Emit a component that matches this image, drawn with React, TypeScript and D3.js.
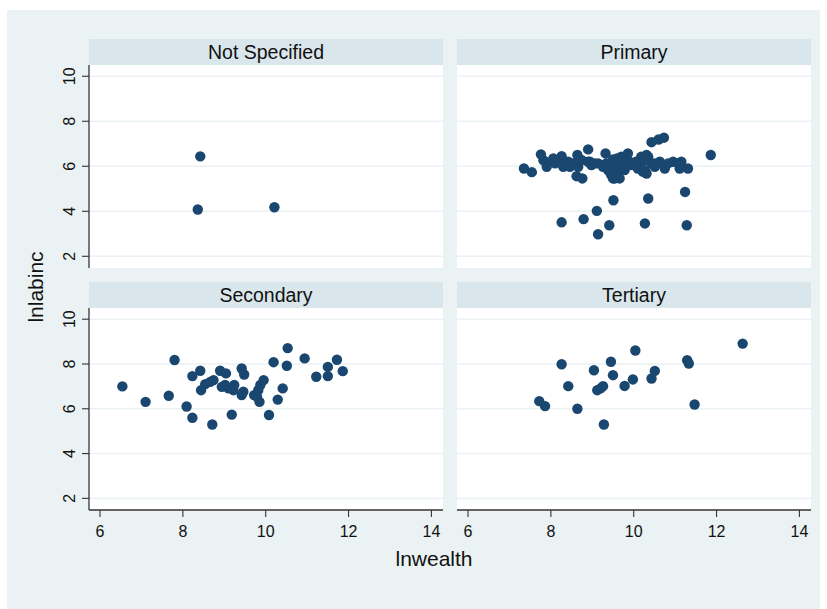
import React from "react";
import * as d3 from "d3";

type Pt = [number, number];

const panelTitles = ["Not Specified", "Primary", "Secondary", "Tertiary"];
const xTicks = [6, 8, 10, 12, 14];
const yTicks = [2, 4, 6, 8, 10];
const xLabel = "lnwealth";
const yLabel = "lnlabinc";

const notSpecified: Pt[] = [
  [8.42, 6.44], [8.36, 4.08], [10.21, 4.18],
];

const primary: Pt[] = [
  [7.35, 5.9], [7.54, 5.74], [7.76, 6.53], [7.82, 6.27], [7.9, 5.98], [8.02, 6.2], [8.1, 6.13],
  [8.26, 6.45], [8.3, 5.98], [8.42, 6.2], [8.54, 6.13], [8.64, 6.5], [8.66, 5.98], [8.62, 5.56],
  [8.76, 5.46], [8.9, 6.75], [8.9, 6.2], [8.98, 6.05], [9.14, 6.13], [9.32, 6.57], [9.34, 6.13],
  [9.38, 5.83], [9.46, 5.61], [9.5, 5.98], [9.54, 5.46], [9.62, 6.2], [9.66, 5.46], [9.7, 6.42],
  [9.74, 6.13], [9.78, 5.83], [9.86, 6.57], [9.9, 6.2], [10.02, 6.05], [10.1, 5.9], [10.18, 6.2],
  [10.31, 6.5], [10.31, 5.68], [10.35, 6.42], [10.43, 6.13], [10.51, 5.98], [10.63, 6.2],
  [10.75, 5.9], [10.83, 6.13], [10.95, 6.2], [11.07, 6.13], [11.11, 5.9], [11.15, 6.2], [11.31, 5.9],
  [8.06, 6.35], [8.26, 6.13], [8.46, 5.98], [8.74, 6.28], [8.94, 6.2], [9.06, 6.13], [9.26, 5.98],
  [9.42, 5.76], [9.54, 5.83], [9.5, 5.46], [9.66, 5.98], [9.78, 6.13], [9.94, 6.05], [10.06, 6.2],
  [10.18, 6.42], [10.3, 6.28], [10.22, 5.76], [10.5, 6.13], [10.27, 6.42], [10.27, 5.83],
  [9.45, 5.7], [9.6, 5.55], [9.55, 6.0], [9.7, 5.9], [9.35, 6.0], [9.5, 6.3], [9.6, 6.35], [9.8, 6.0],
  [8.26, 3.51], [8.79, 3.65], [9.11, 4.02], [9.14, 2.98], [9.41, 3.38], [9.51, 4.49], [10.27, 3.46],
  [10.35, 4.57], [11.24, 4.86], [11.28, 3.38], [11.86, 6.5], [10.43, 7.07], [10.6, 7.19], [10.73, 7.27],
];

const secondary: Pt[] = [
  [6.54, 7.0], [7.1, 6.31], [7.66, 6.58], [7.8, 8.18], [8.09, 6.1], [8.23, 5.6], [8.23, 7.46],
  [8.42, 7.7], [8.44, 6.83], [8.54, 7.1], [8.71, 5.3], [8.74, 7.28], [8.66, 7.2], [8.9, 7.7],
  [9.04, 7.58], [9.02, 7.06], [9.1, 6.91], [9.18, 5.74], [9.22, 6.83], [9.24, 7.06], [9.42, 7.8],
  [9.48, 7.53], [9.42, 6.61], [9.46, 6.76], [9.72, 6.61], [9.82, 6.83], [9.87, 7.06], [9.95, 7.28],
  [9.85, 6.31], [10.08, 5.72], [10.19, 8.08], [10.29, 6.41], [10.41, 6.91], [10.51, 7.92],
  [10.53, 8.71], [10.94, 8.25], [11.22, 7.43], [11.5, 7.87], [11.5, 7.46], [11.72, 8.19],
  [11.86, 7.68], [8.94, 6.98], [9.79, 6.54],
];

const tertiary: Pt[] = [
  [7.72, 6.34], [7.86, 6.12], [8.26, 7.99], [8.42, 7.01], [8.64, 6.0], [9.04, 7.72], [9.12, 6.83],
  [9.26, 7.01], [9.2, 6.91], [9.28, 5.3], [9.45, 8.1], [9.5, 7.5], [9.78, 7.02], [9.98, 7.31],
  [10.04, 8.6], [10.43, 7.35], [10.51, 7.69], [11.29, 8.17], [11.33, 8.02], [11.47, 6.19],
  [12.63, 8.91],
];

const panelData = [notSpecified, primary, secondary, tertiary];

const BG = "#eaf2f3";
const HEADER = "#d9e6eb";
const MARKER = "#1a476f";
const FONT = "'Liberation Sans', Arial, Helvetica, sans-serif";

const colLeft = [89, 457];
const panelW = 354;
const rowHeaderTop = [39, 282];
const headerH = 26;
const plotH = [203, 202];

export default function App() {
  return (
    <svg
      width={827}
      height={609}
      style={{ position: "absolute", left: 0, top: 0, background: "#ffffff" }}
      fontFamily={FONT}
    >
      <rect x={7} y={10} width={813} height={599} fill={BG} />
      {panelData.map((data, i) => {
        const col = i % 2;
        const row = Math.floor(i / 2);
        const left = colLeft[col];
        const hTop = rowHeaderTop[row];
        const pTop = hTop + headerH;
        const pH = plotH[row];
        const x = d3.scaleLinear().domain([5.734, 14.28]).range([left, left + panelW]);
        const y = d3.scaleLinear().domain([1.48, 10.5]).range([pTop + pH, pTop]);
        return (
          <g key={i}>
            <rect x={left} y={hTop} width={panelW} height={headerH} fill={HEADER} />
            <text
              x={left + panelW / 2}
              y={hTop + 19.5}
              textAnchor="middle"
              fontSize={19.5}
              fill="#111"
            >
              {panelTitles[i]}
            </text>
            <rect x={left} y={pTop} width={panelW} height={pH} fill="#ffffff" />
            {yTicks.map((t) => (
              <line
                key={t}
                x1={left}
                x2={left + panelW}
                y1={y(t)}
                y2={y(t)}
                stroke={BG}
                strokeWidth={1.6}
              />
            ))}
            {data.map((d, k) => (
              <circle key={k} cx={x(d[0])} cy={y(d[1])} r={5.2} fill={MARKER} />
            ))}
            {col === 0 && (
              <g>
                <line x1={left} x2={left} y1={pTop} y2={pTop + pH} stroke="#333" strokeWidth={1.3} />
                {yTicks.map((t) => (
                  <g key={t}>
                    <line x1={left - 7} x2={left} y1={y(t)} y2={y(t)} stroke="#333" strokeWidth={1.1} />
                    <text
                      transform={`translate(${left - 14},${y(t)}) rotate(-90)`}
                      textAnchor="middle"
                      fontSize={16}
                      fill="#111"
                    >
                      {t}
                    </text>
                  </g>
                ))}
              </g>
            )}
            {row === 1 && (
              <g>
                <line x1={left} x2={left + panelW} y1={pTop + pH} y2={pTop + pH} stroke="#333" strokeWidth={1.3} />
                {xTicks.map((t) => (
                  <g key={t}>
                    <line x1={x(t)} x2={x(t)} y1={pTop + pH} y2={pTop + pH + 7} stroke="#333" strokeWidth={1.1} />
                    <text x={x(t)} y={537} textAnchor="middle" fontSize={16} fill="#111">
                      {t}
                    </text>
                  </g>
                ))}
              </g>
            )}
          </g>
        );
      })}
      <text x={434} y={566} textAnchor="middle" fontSize={21} fill="#111">
        {xLabel}
      </text>
      <text
        transform={`translate(43,287) rotate(-90)`}
        textAnchor="middle"
        fontSize={21}
        fill="#111"
      >
        {yLabel}
      </text>
    </svg>
  );
}
